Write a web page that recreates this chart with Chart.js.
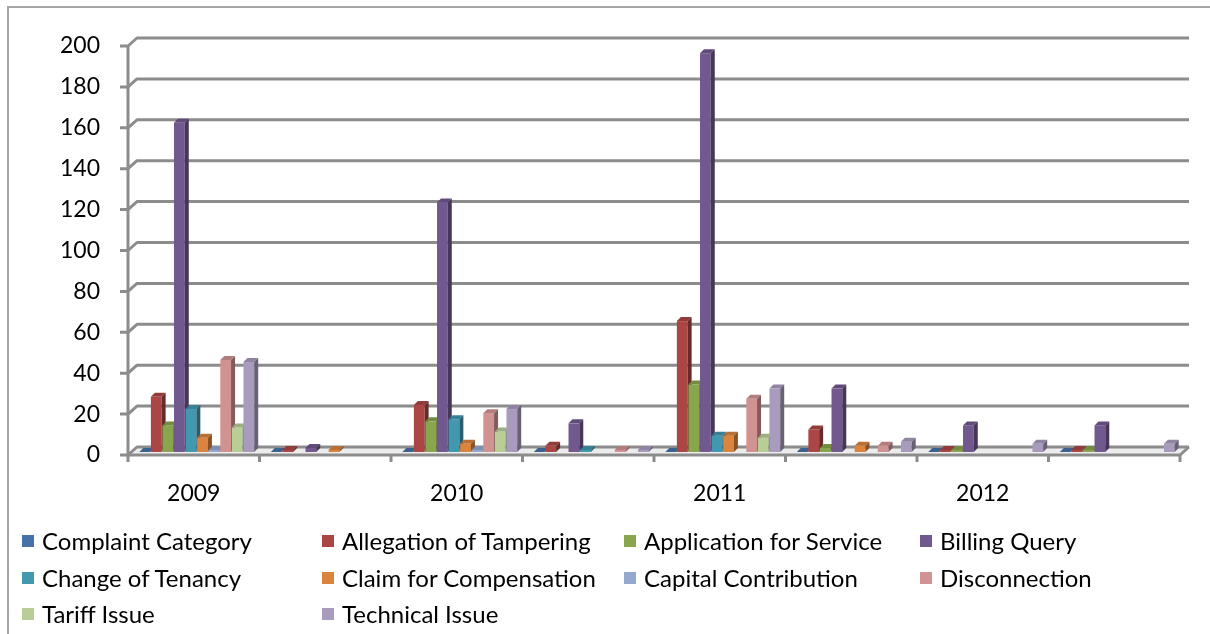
<!DOCTYPE html>
<html>
<head>
<meta charset="utf-8">
<script src="https://cdn.jsdelivr.net/npm/chart.js@4.4.1/dist/chart.umd.min.js"></script>
<style>
  html, body { margin:0; padding:0; background:#fff; }
  #wrap { position:relative; width:1210px; height:634px; overflow:hidden; font-family:Lato, 'Liberation Sans', sans-serif; }
  #frame { position:absolute; left:7px; top:6px; width:1300px; height:700px; border-left:2px solid #a6a6a6; border-top:2px solid #a6a6a6; }
  #chartBox { position:absolute; left:0; top:0; width:1210px; height:634px; }
  #legend { position:absolute; left:22px; top:523px; display:grid; grid-template-columns:300px 302px 296px 280px; }
  .item { height:36.5px; line-height:36px; font-size:24px; color:#000; white-space:nowrap; display:flex; align-items:center; }
  .item .box { width:12px; height:12px; margin-right:8px; flex:none; }
</style>
</head>
<body>
<div id="wrap">
  <div id="frame"></div>
  <div id="chartBox"><canvas id="chart"></canvas></div>
  <div id="legend"></div>
</div>
<script>
const categories = ['2009', '', '2010', '', '2011', '', '2012', ''];
const yTicks = [0, 20, 40, 60, 80, 100, 120, 140, 160, 180, 200];

const seriesNames = ['Complaint Category','Allegation of Tampering','Application for Service','Billing Query',
  'Change of Tenancy','Claim for Compensation','Capital Contribution','Disconnection','Tariff Issue','Technical Issue'];
const seriesColors = ['#4572A7','#AA4643','#89A54E','#71588F','#4198AF','#DB843D','#93A9CF','#D19392','#B9CD96','#A99BBD'];

const complaintCategory    = [0, 0, 0, 0, 0, 0, 0, 0];
const allegationTampering  = [27, 1, 23, 3, 64, 11, 1, 1];
const applicationService   = [13, null, 15, null, 33, 2, 1, 1];
const billingQuery         = [161, 2, 122, 14, 195, 31, 13, 13];
const changeTenancy        = [21, null, 16, 1, 8, null, null, null];
const claimCompensation    = [7, 1, 4, null, 8, 3, null, null];
const capitalContribution  = [1, null, 1, null, null, null, null, null];
const disconnection        = [45, null, 19, 1, 26, 3, null, null];
const tariffIssue          = [12, null, 10, null, 7, null, null, null];
const technicalIssue       = [44, null, 21, 1, 31, 5, 4, 4];

const seriesValues = [complaintCategory, allegationTampering, applicationService, billingQuery, changeTenancy,
  claimCompensation, capitalContribution, disconnection, tariffIssue, technicalIssue];

const FONT = "Lato, 'Liberation Sans', sans-serif";
const GRID = '#8c8c8c';
const wall = { dx: 9, dy: 8 };   // back wall offset
const bar3d = { dx: 4, dy: 4 };  // bar depth
const barShift = { dx: 3, dy: -3 }; // bars sit mid-depth, not on the front edge

function shade(hex, f){
  const n = parseInt(hex.slice(1), 16);
  const r = Math.round(((n >> 16) & 255) * f), g = Math.round(((n >> 8) & 255) * f), b = Math.round((n & 255) * f);
  return `rgb(${r},${g},${b})`;
}
function poly(ctx, pts, fill){
  ctx.beginPath();
  ctx.moveTo(pts[0][0], pts[0][1]);
  for(let i = 1; i < pts.length; i++) ctx.lineTo(pts[i][0], pts[i][1]);
  ctx.closePath();
  ctx.fillStyle = fill;
  ctx.fill();
}

// fake Excel 3D look: back wall gridlines, floor and bar sides
const threeD = {
  id: 'threeD',
  beforeDatasetsDraw(chart){
    const { ctx, chartArea:{ left, right, top, bottom }, scales:{ y } } = chart;
    ctx.save();
    poly(ctx, [[left,bottom],[right,bottom],[right+wall.dx,bottom-wall.dy],[left+wall.dx,bottom-wall.dy]], '#ececec');
    ctx.strokeStyle = GRID;
    ctx.lineWidth = 3;
    ctx.lineJoin = 'round';
    y.ticks.forEach(t => {
      const py = y.getPixelForValue(t.value);
      ctx.beginPath();
      ctx.moveTo(left - 8, py);
      ctx.lineTo(left, py);
      ctx.lineTo(left + wall.dx, py - wall.dy);
      ctx.lineTo(right + wall.dx, py - wall.dy);
      ctx.stroke();
    });
    // axis
    ctx.beginPath();
    ctx.moveTo(left, top);
    ctx.lineTo(left, bottom + 7);
    ctx.stroke();
    ctx.beginPath();
    ctx.moveTo(left, bottom);
    ctx.lineTo(right, bottom);
    ctx.lineTo(right + wall.dx, bottom - wall.dy);
    ctx.stroke();
    const n = categories.length;
    for(let i = 1; i <= n; i++){
      const px = left + i * (right - left) / n;
      ctx.beginPath();
      ctx.moveTo(px, bottom);
      ctx.lineTo(px, bottom + 7);
      ctx.stroke();
    }
    ctx.restore();
  },
  afterDatasetsDraw(chart){
    const ctx = chart.ctx;
    ctx.save();
    // cover the flat bars chart.js drew, then redraw them shifted with depth
    const { left, right, top, bottom } = chart.chartArea;
    for(let j = 0; j < categories.length; j++){
      for(let i = 0; i < seriesValues.length; i++){
        if(seriesValues[i][j] === null) continue;
        const el = chart.getDatasetMeta(i).data[j];
        let { x, y, base, width } = el.getProps(['x','y','base','width'], true);
        x += barShift.dx; y += barShift.dy; base += barShift.dy;
        const l = x - width / 2, r = x + width / 2, c = seriesColors[i];
        ctx.fillStyle = c;
        ctx.fillRect(l, y, width, base - y);
        poly(ctx, [[l,y],[l+bar3d.dx,y-bar3d.dy],[r+bar3d.dx,y-bar3d.dy],[r,y]], shade(c, 0.85));
        poly(ctx, [[r,y],[r+bar3d.dx,y-bar3d.dy],[r+bar3d.dx,base-bar3d.dy],[r,base]], shade(c, 0.62));
      }
    }
    ctx.restore();
  }
};

new Chart(document.getElementById('chart'), {
  type: 'bar',
  data: {
    labels: categories,
    datasets: seriesNames.map((name, i) => ({
      label: name,
      data: seriesValues[i],
      backgroundColor: 'rgba(0,0,0,0)',
      categoryPercentage: 0.88,
      barPercentage: 0.93,
    }))
  },
  options: {
    responsive: true,
    maintainAspectRatio: false,
    animation: false,
    layout: { padding: { left: 0, right: 30, top: 46, bottom: 129 } },
    plugins: { legend: { display: false }, tooltip: { enabled: false } },
    scales: {
      x: {
        grid: { display: false, drawTicks: false },
        border: { display: false },
        ticks: { color: '#000', font: { family: FONT, size: 23 }, padding: 25, autoSkip: false, maxRotation: 0 },
        afterFit: s => { s.height = 50; }
      },
      y: {
        min: 0, max: 200,
        afterBuildTicks: s => { s.ticks = yTicks.map(v => ({ value: v })); },
        grid: { display: false, drawTicks: false },
        border: { display: false },
        ticks: { color: '#000', font: { family: FONT, size: 23 }, padding: 28 },
        afterFit: s => { s.width = 128; }
      }
    }
  },
  plugins: [threeD]
});

document.getElementById('legend').innerHTML = seriesNames.map((name, i) =>
  `<div class="item"><span class="box" style="background:${seriesColors[i]}"></span>${name}</div>`).join('');
</script>
</body>
</html>
